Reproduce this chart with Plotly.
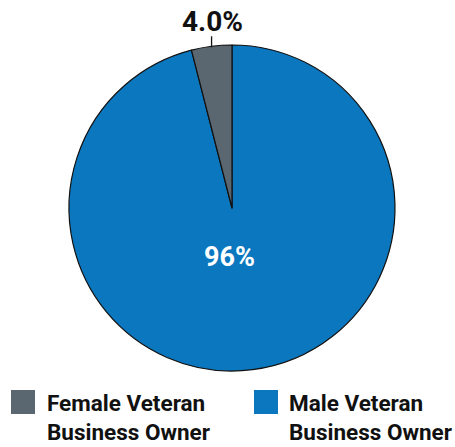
import math
import plotly.graph_objects as go

categories = ["Female Veteran<br>Business Owner", "Male Veteran<br>Business Owner"]
values = [4.0, 96.0]
label_text = ["4.0%", "96%"]
colors = ["#5a6670", "#0a77bf"]

W, H = 455, 447
cx_px, cy_px, r_px = 232, 208, 163

def px(x):
    return x / W

def py(y):
    return 1 - y / H

fig = go.Figure()
# male drawn clockwise from 12 o'clock, so the female slice sits just left of the top
fig.add_trace(go.Pie(
    labels=categories[::-1],
    values=values[::-1],
    sort=False,
    direction="clockwise",
    rotation=0,
    marker=dict(colors=colors[::-1], line=dict(color="#111111", width=1.2)),
    textinfo="none",
    hoverinfo="label+percent",
    showlegend=False,
    domain=dict(x=[px(cx_px - r_px), px(cx_px + r_px)],
                y=[py(cy_px + r_px), py(cy_px - r_px)]),
))

total = sum(values)
mid_f = (values[0] / total) * math.pi  # female slice mid-angle from 12 o'clock
lx = cx_px - r_px * math.sin(mid_f)
ly0 = cy_px - r_px * math.cos(mid_f)
fig.add_shape(type="line", xref="paper", yref="paper",
              x0=px(lx), y0=py(ly0 + 1), x1=px(lx), y1=py(ly0 - 10),
              line=dict(color="#111111", width=1.3))
fig.add_annotation(xref="paper", yref="paper", x=px(lx + 1), y=py(21),
                   text="<b>%s</b>" % label_text[0], showarrow=False,
                   xanchor="center", yanchor="middle",
                   font=dict(family="Roboto", size=28, color="#111111"))
fig.add_annotation(xref="paper", yref="paper", x=px(229), y=py(257),
                   text="<b>%s</b>" % label_text[1], showarrow=False,
                   xanchor="center", yanchor="middle",
                   font=dict(family="Roboto", size=27, color="white"))

# legend
legend_x = [11, 254]
text_x = [47, 289]
for i, (cat, col) in enumerate(zip(categories, colors)):
    x0 = legend_x[i]
    fig.add_shape(type="rect", xref="paper", yref="paper",
                  x0=px(x0), x1=px(x0 + 24), y0=py(414), y1=py(390),
                  fillcolor=col, line=dict(width=0))
    fig.add_annotation(xref="paper", yref="paper", x=px(text_x[i] - 2), y=py(388),
                       text="<b>%s</b>" % cat, showarrow=False,
                       xanchor="left", yanchor="top", align="left",
                       font=dict(family="Roboto", size=22.5, color="#111111"))

fig.update_layout(width=W, height=H, margin=dict(l=0, r=0, t=0, b=0),
                  paper_bgcolor="white", plot_bgcolor="white")
fig.write_html("out.html", config={"displayModeBar": False},
               post_script="document.body.style.margin='0';document.body.style.overflow='hidden';")
